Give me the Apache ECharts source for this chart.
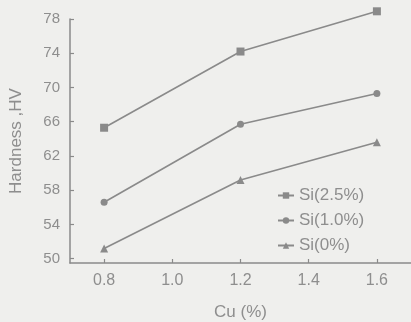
<!DOCTYPE html>
<html><head><meta charset="utf-8">
<script src="https://cdn.jsdelivr.net/npm/echarts@6/dist/echarts.min.js"></script>
<style>html,body{margin:0;padding:0;background:#efefed;}#c{width:411px;height:322px;}</style>
</head><body><div id="c"></div>
<script>
const cu = [0.8, 1.2, 1.6];
const si25 = [65.3, 74.2, 78.9];
const si10 = [56.6, 65.7, 69.3];
const si0 = [51.2, 59.2, 63.6];
const xTicks = [0.8, 1.0, 1.2, 1.4, 1.6];
const yTicks = [50, 54, 58, 62, 66, 70, 74, 78];
const names = ['Si(2.5%)', 'Si(1.0%)', 'Si(0%)'];

const gray = '#8a8a8a';
const txt = '#8e8e8e';
const font = 'Liberation Sans';
function pairs(ys){ return cu.map((x,i)=>[x, ys[i]]); }
function ser(name, ys, symbol, size){
  return {name, type:'line', data:pairs(ys), symbol, symbolSize:size, clip:false,
    lineStyle:{color:gray, width:1.6}, itemStyle:{color:gray}, emphasis:{disabled:true}};
}
const chart = echarts.init(document.getElementById('c'));
chart.setOption({
  backgroundColor:'#efefed',
  animation:false,
  grid:{left:70, top:19, right:0, bottom:59, containLabel:false, outerBoundsMode:'none'},
  xAxis:{type:'value', min:0.7, max:1.7, name:'Cu (%)', nameLocation:'middle', nameGap:41,
    nameTextStyle:{color:txt, fontSize:17, fontFamily:font},
    splitLine:{show:false},
    axisLine:{lineStyle:{color:gray, width:1.5}},
    axisTick:{inside:true, length:4, customValues:xTicks, lineStyle:{color:gray, width:1.2}},
    axisLabel:{customValues:xTicks, formatter:v=>v.toFixed(1), color:txt, fontSize:16, fontFamily:font, margin:10}},
  yAxis:{type:'value', min:49.5, max:78, name:'Hardness ,HV', nameLocation:'middle', nameGap:45,
    nameTextStyle:{color:txt, fontSize:17, fontFamily:font},
    splitLine:{show:false},
    axisLine:{show:true, lineStyle:{color:gray, width:1.5}},
    axisTick:{show:true, inside:true, length:4, customValues:yTicks, lineStyle:{color:gray, width:1.2}},
    axisLabel:{customValues:yTicks, color:txt, fontSize:15, fontFamily:font, margin:10}},
  legend:{orient:'vertical', left:272, top:182, itemGap:8, itemWidth:16, itemHeight:8,
    data:names, textStyle:{color:txt, fontSize:17, fontFamily:font}, inactiveColor:gray},
  series:[ser(names[0], si25, 'rect', 8), ser(names[1], si10, 'circle', 7), ser(names[2], si0, 'triangle', 8)]
});
</script></body></html>
